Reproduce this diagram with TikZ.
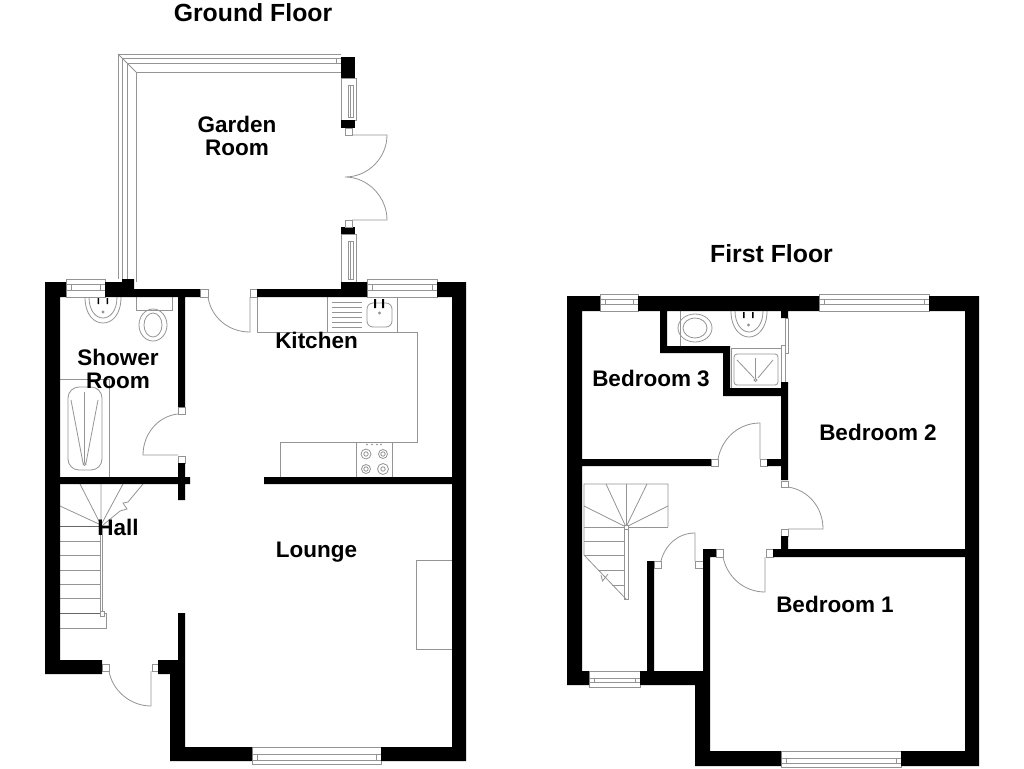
\documentclass[tikz,border=0pt]{standalone}
\usepackage{fontspec}
\setmainfont{Liberation Sans}
\tikzset{
  wall/.style={fill=black,draw=none},
  fix/.style={draw=black!42,line width=0.8pt},
  fixd/.style={draw=black!60,line width=0.8pt},
  jamb/.style={draw=black!42,line width=0.8pt,fill=white},
  room/.style={font=\fontsize{22.5}{22.5}\selectfont\bfseries,inner sep=0pt,align=center,anchor=base},
  roomm/.style={font=\fontsize{22.5}{22.5}\selectfont\bfseries,inner sep=0pt,align=center},
  ttl/.style={font=\fontsize{24.8}{26}\selectfont\bfseries,inner sep=0pt,anchor=base}
}
\newcommand\hwin[6]{% x1 x2 y1 y2 innery1 innery2
  \draw[jamb] (#1,#3) rectangle (#2,#4);
  \draw[fix] ({#1},#5) -- ({#2},#5) ({#1},#6) -- ({#2},#6);
  \draw[fix] ({#1+5},#5) rectangle ({#2-5},#6);
}
\newcommand\vwin[4]{% x1 x2 y1 y2
  \draw[jamb] (#1,#3) rectangle (#2,#4);
  \draw[fix] ({#1+7},{#3+7}) rectangle ({#2-3},{#4-3});
  \draw[fix] ({#1+9.5},{#3+7}) -- ({#1+9.5},{#4-3});
}
\begin{document}
\begin{tikzpicture}[x=1pt,y=-1pt]
\useasboundingbox (0,0) rectangle (1024,768);
\fill[white] (0,0) rectangle (1024,768);

% ===== Ground floor: garden room frame
\draw[fix] (118,279) -- (118,54) -- (341,54);
\draw[fix] (122,279) -- (122,58) -- (341,58);
\draw[fix] (127,279) -- (127,63) -- (341,63);
\draw[fix] (136,282) -- (136,72) -- (341,72);
\draw[fix] (118,54) -- (136,72);
\draw[fix] (336,58) -- (336,63);
% garden right side
\vwin{341}{356}{78}{120}
\vwin{341}{356}{234}{282}
\fill[wall] (341,57) rectangle (355,78);
\fill[wall] (341,120) rectangle (355,128);
\fill[wall] (341,227) rectangle (355,234);
\draw[jamb] (345,128) rectangle (352,135);
\draw[jamb] (345,220) rectangle (352,227);
\draw[fix] (352,135) -- (387,135) .. controls (387,158) and (368,177) .. (345,177)
   .. controls (368,177) and (387,197) .. (387,220) -- (352,220);

% ===== Ground floor fixtures
% shower room
\draw[fix] (60,379) -- (109,379) -- (109,477);
\draw[fix,rounded corners=11pt] (68,387) rectangle (102,470);
\draw[fix] (71,400) -- (83,463) (98,400) -- (86,463) (84.5,392) -- (84.5,462);
\draw[fix] (84.5,464) circle (1.5);
% sink
\draw[fix] (85,297) .. controls (85,315) and (94,323) .. (103,323) .. controls (112,323) and (121,315) .. (121,297);
\draw[fix] (89,297) .. controls (89,311) and (96,318) .. (103,318) .. controls (110,318) and (117,311) .. (117,297);
\fill[black] (97.5,298) rectangle (99,304) (106.5,298) rectangle (108,304);
\draw[fix] (103,312) circle (1);
% toilet
\draw[fix] (136,297) -- (136,310) -- (172,310) -- (172,297);
\draw[fix] (153,325) ellipse (14 and 16);
\draw[fix] (153,325) ellipse (9 and 12);
% kitchen units
\draw[fix] (257,297) -- (257,332) -- (417,332) -- (417,442) -- (280,442) -- (280,477);
\draw[fix] (327,297) -- (327,332) (397,297) -- (397,332);
\draw[fix] (356,442) -- (356,477) (392,442) -- (392,477);
\foreach \yy in {302,307,312,317,322,327} \draw[fix] (332,\yy) -- (362,\yy);
\draw[fix,rounded corners=6pt] (367,303) rectangle (392,327);
\fill[black] (374,299) rectangle (376,308) (382,299) rectangle (384,308);
\draw[fix] (379.5,313) circle (1);
\foreach \cx/\cy/\rr in {366/454/5,383/454/4.5,366/469/4.5,383/469/5.5}{
  \draw[fix] (\cx,\cy) circle (\rr);
  \draw[fix] (\cx,\cy) circle (2.2);
}
\foreach \cx in {367,372,377,381} \fill[black!45] (\cx,444.5) circle (0.9);
% fireplace
\draw[fix] (452,560) -- (416,560) -- (416,649) -- (452,649);
% stairs ground
\draw[fix] (60,613) -- (106,613) -- (106,628) -- (60,628);
\draw[fix] (100,525) -- (100,613) (102,525) -- (102,611);
\draw[jamb] (100,611) rectangle (104,616);
\foreach \yy in {541,555.5,570,584,598} \draw[fix] (60,\yy) -- (100,\yy);
\draw[fixd] (60,526) -- (100,526);
\draw[fixd] (60,613) -- (100,613);
\draw[fix] (101,525) -- (60,506) (101,525) -- (80,484) (101,525) -- (101,484) (101,525) -- (123,484);
\draw[fix] (103,525) -- (120,511) -- (127,509) -- (123,503) -- (128,502) -- (143,484);
% doors ground
\draw[jamb] (200,289) rectangle (208,297);
\draw[jamb] (250,289) rectangle (257,297);
\draw[fix] (208,297) .. controls (211,317) and (228,332) .. (250,332) -- (250,297);
\draw[jamb] (178,407) rectangle (185,414);
\draw[jamb] (178,456) rectangle (185,463);
\draw[fix] (178,414) .. controls (158,416) and (143,434) .. (143,455) -- (178,455);
\draw[jamb] (102,664) rectangle (109,671);
\draw[jamb] (152,664) rectangle (158,671);
\draw[fix] (109,671) .. controls (112,690) and (130,706) .. (151,706) -- (151,671);

% ===== Ground floor windows
\hwin{66}{105}{279}{297}{284}{290}
\hwin{367}{437}{279}{297}{284}{290}
\hwin{252}{381}{747}{764}{754}{760}

% ===== Ground floor walls
\fill[wall] (45,282) -- (66,282) -- (66,297) -- (60,297) -- (60,660) -- (102,660) -- (102,674) -- (45,674) -- cycle;
\fill[wall] (105,282) -- (122,282) -- (122,279) -- (134,279) -- (134,289) -- (200,289) -- (200,297) -- (185,297) -- (185,407) -- (178,407) -- (178,297) -- (105,297) -- cycle;
\fill[wall] (178,463) -- (185,463) -- (185,477) -- (190,477) -- (190,484) -- (185,484) -- (185,500) -- (178,500) -- (178,484) -- (60,484) -- (60,477) -- (178,477) -- cycle;
\fill[wall] (257,289) -- (341,289) -- (341,282) -- (367,282) -- (367,297) -- (257,297) -- cycle;
\fill[wall] (437,282) -- (466,282) -- (466,761) -- (381,761) -- (381,747) -- (452,747) -- (452,484) -- (264,484) -- (264,477) -- (452,477) -- (452,297) -- (437,297) -- cycle;
\fill[wall] (178,613) -- (185,613) -- (185,747) -- (252,747) -- (252,761) -- (170,761) -- (170,674) -- (158,674) -- (158,660) -- (178,660) -- cycle;

% ===== First floor fixtures
% toilet
\draw[fix] (680,311) -- (680,346);
\draw[fix] (695,328) ellipse (17 and 14);
\draw[fix] (695,328) ellipse (12 and 10);
% sink
\draw[fix] (731,311) .. controls (731,328) and (740,337) .. (749,337) .. controls (758,337) and (767,328) .. (767,311);
\draw[fix] (735,311) .. controls (735,324) and (742,332) .. (749,332) .. controls (756,332) and (763,324) .. (763,311);
\fill[black] (743,312) rectangle (744.5,318) (752,312) rectangle (753.5,318);
\draw[fix] (748.5,325) circle (1);
% shower
\draw[fix] (731,348) rectangle (781,388);
\draw[fix,rounded corners=3pt] (734,354) rectangle (778,385);
\draw[fix] (737,360) -- (754,378) (773,360) -- (758,378) (755.5,358) -- (755.5,378);
\draw[fix] (755.5,380) circle (1.5);
% sliding door
\draw[jamb] (785,318) rectangle (788,353);
\draw[jamb] (781,345) rectangle (785,382);
% stairs first
\draw[fix] (668,527) -- (668,484) -- (584,484) -- (584,555) -- (626,599);
\draw[fix] (584,527) -- (668,527);
\foreach \ex/\ey in {606/484,626/484,647/484,668/506,584/506} \draw[fix] (626,527) -- (\ex,\ey);
\draw[fix] (624,530) -- (624,599) -- (628,599) -- (628,530);
\foreach \xa/\yy in {584/541,584/555,598/570,612/585} \draw[fix] (\xa,\yy) -- (624,\yy);
\draw[fix] (601,575) -- (602.5,581) -- (608,574);
\draw[jamb] (624,525) rectangle (628,529);
% doors first
\draw[jamb] (711,459) rectangle (718,466);
\draw[jamb] (760,459) rectangle (767,466);
\draw[fix] (718,459) .. controls (722,438) and (739,423) .. (760,423) -- (760,459);
\draw[jamb] (781,481) rectangle (788,487);
\draw[jamb] (781,529) rectangle (788,536);
\draw[fix] (788,487) .. controls (808,490) and (823,507) .. (823,529) -- (788,529);
\draw[jamb] (716,549) rectangle (723,557);
\draw[jamb] (766,549) rectangle (773,557);
\draw[fix] (723,557) .. controls (727,577) and (744,592) .. (765,592) -- (765,557);
\draw[jamb] (654,561) rectangle (661,568);
\draw[jamb] (695,561) rectangle (703,568);
\draw[fix] (661,561) .. controls (665,545) and (678,533) .. (695,533) -- (695,561);

% ===== First floor windows
\hwin{600}{638}{294}{311}{299}{304}
\hwin{819}{929}{294}{311}{299}{304}
\hwin{589}{640}{671}{687}{678}{682}
\hwin{781}{901}{751}{767}{758}{763}

% ===== First floor walls
\fill[wall] (567,296) -- (600,296) -- (600,311) -- (582,311) -- (582,459) -- (711,459) -- (711,466) -- (582,466) -- (582,671) -- (589,671) -- (589,685) -- (567,685) -- cycle;
\fill[wall] (638,296) -- (819,296) -- (819,311) -- (788,311) -- (788,318) -- (781,318) -- (781,311) -- (667,311) -- (667,346) -- (730,346) -- (730,388) -- (781,388) -- (781,382) -- (788,382) -- (788,480) -- (781,480) -- (781,466) -- (767,466) -- (767,459) -- (781,459) -- (781,396) -- (723,396) -- (723,353) -- (660,353) -- (660,311) -- (638,311) -- cycle;
\fill[wall] (929,296) -- (979,296) -- (979,766) -- (901,766) -- (901,751) -- (965,751) -- (965,557) -- (773,557) -- (773,549) -- (781,549) -- (781,536) -- (788,536) -- (788,549) -- (965,549) -- (965,311) -- (929,311) -- cycle;
\fill[wall] (640,671) -- (647,671) -- (647,561) -- (654,561) -- (654,671) -- (703,671) -- (703,549) -- (716,549) -- (716,557) -- (710,557) -- (710,751) -- (781,751) -- (781,766) -- (695,766) -- (695,685) -- (640,685) -- cycle;

% ===== Labels
\node[ttl] (gf) at (253,22) {Ground Floor};
\node[ttl] (ff) at (771.5,262) {First Floor};
\node[roomm] (garden) at (237,136) {Garden\\Room};
\node[roomm] (shower) at (118,369) {Shower\\Room};
\node[room] (kitchen) at (316.5,348) {Kitchen};
\node[room] (hall) at (118,535) {Hall};
\node[room] (lounge) at (316.5,557) {Lounge};
\node[room] (bed3) at (651,386) {Bedroom 3};
\node[room] (bed2) at (878,440) {Bedroom 2};
\node[room] (bed1) at (835,612) {Bedroom 1};
\end{tikzpicture}
\end{document}
